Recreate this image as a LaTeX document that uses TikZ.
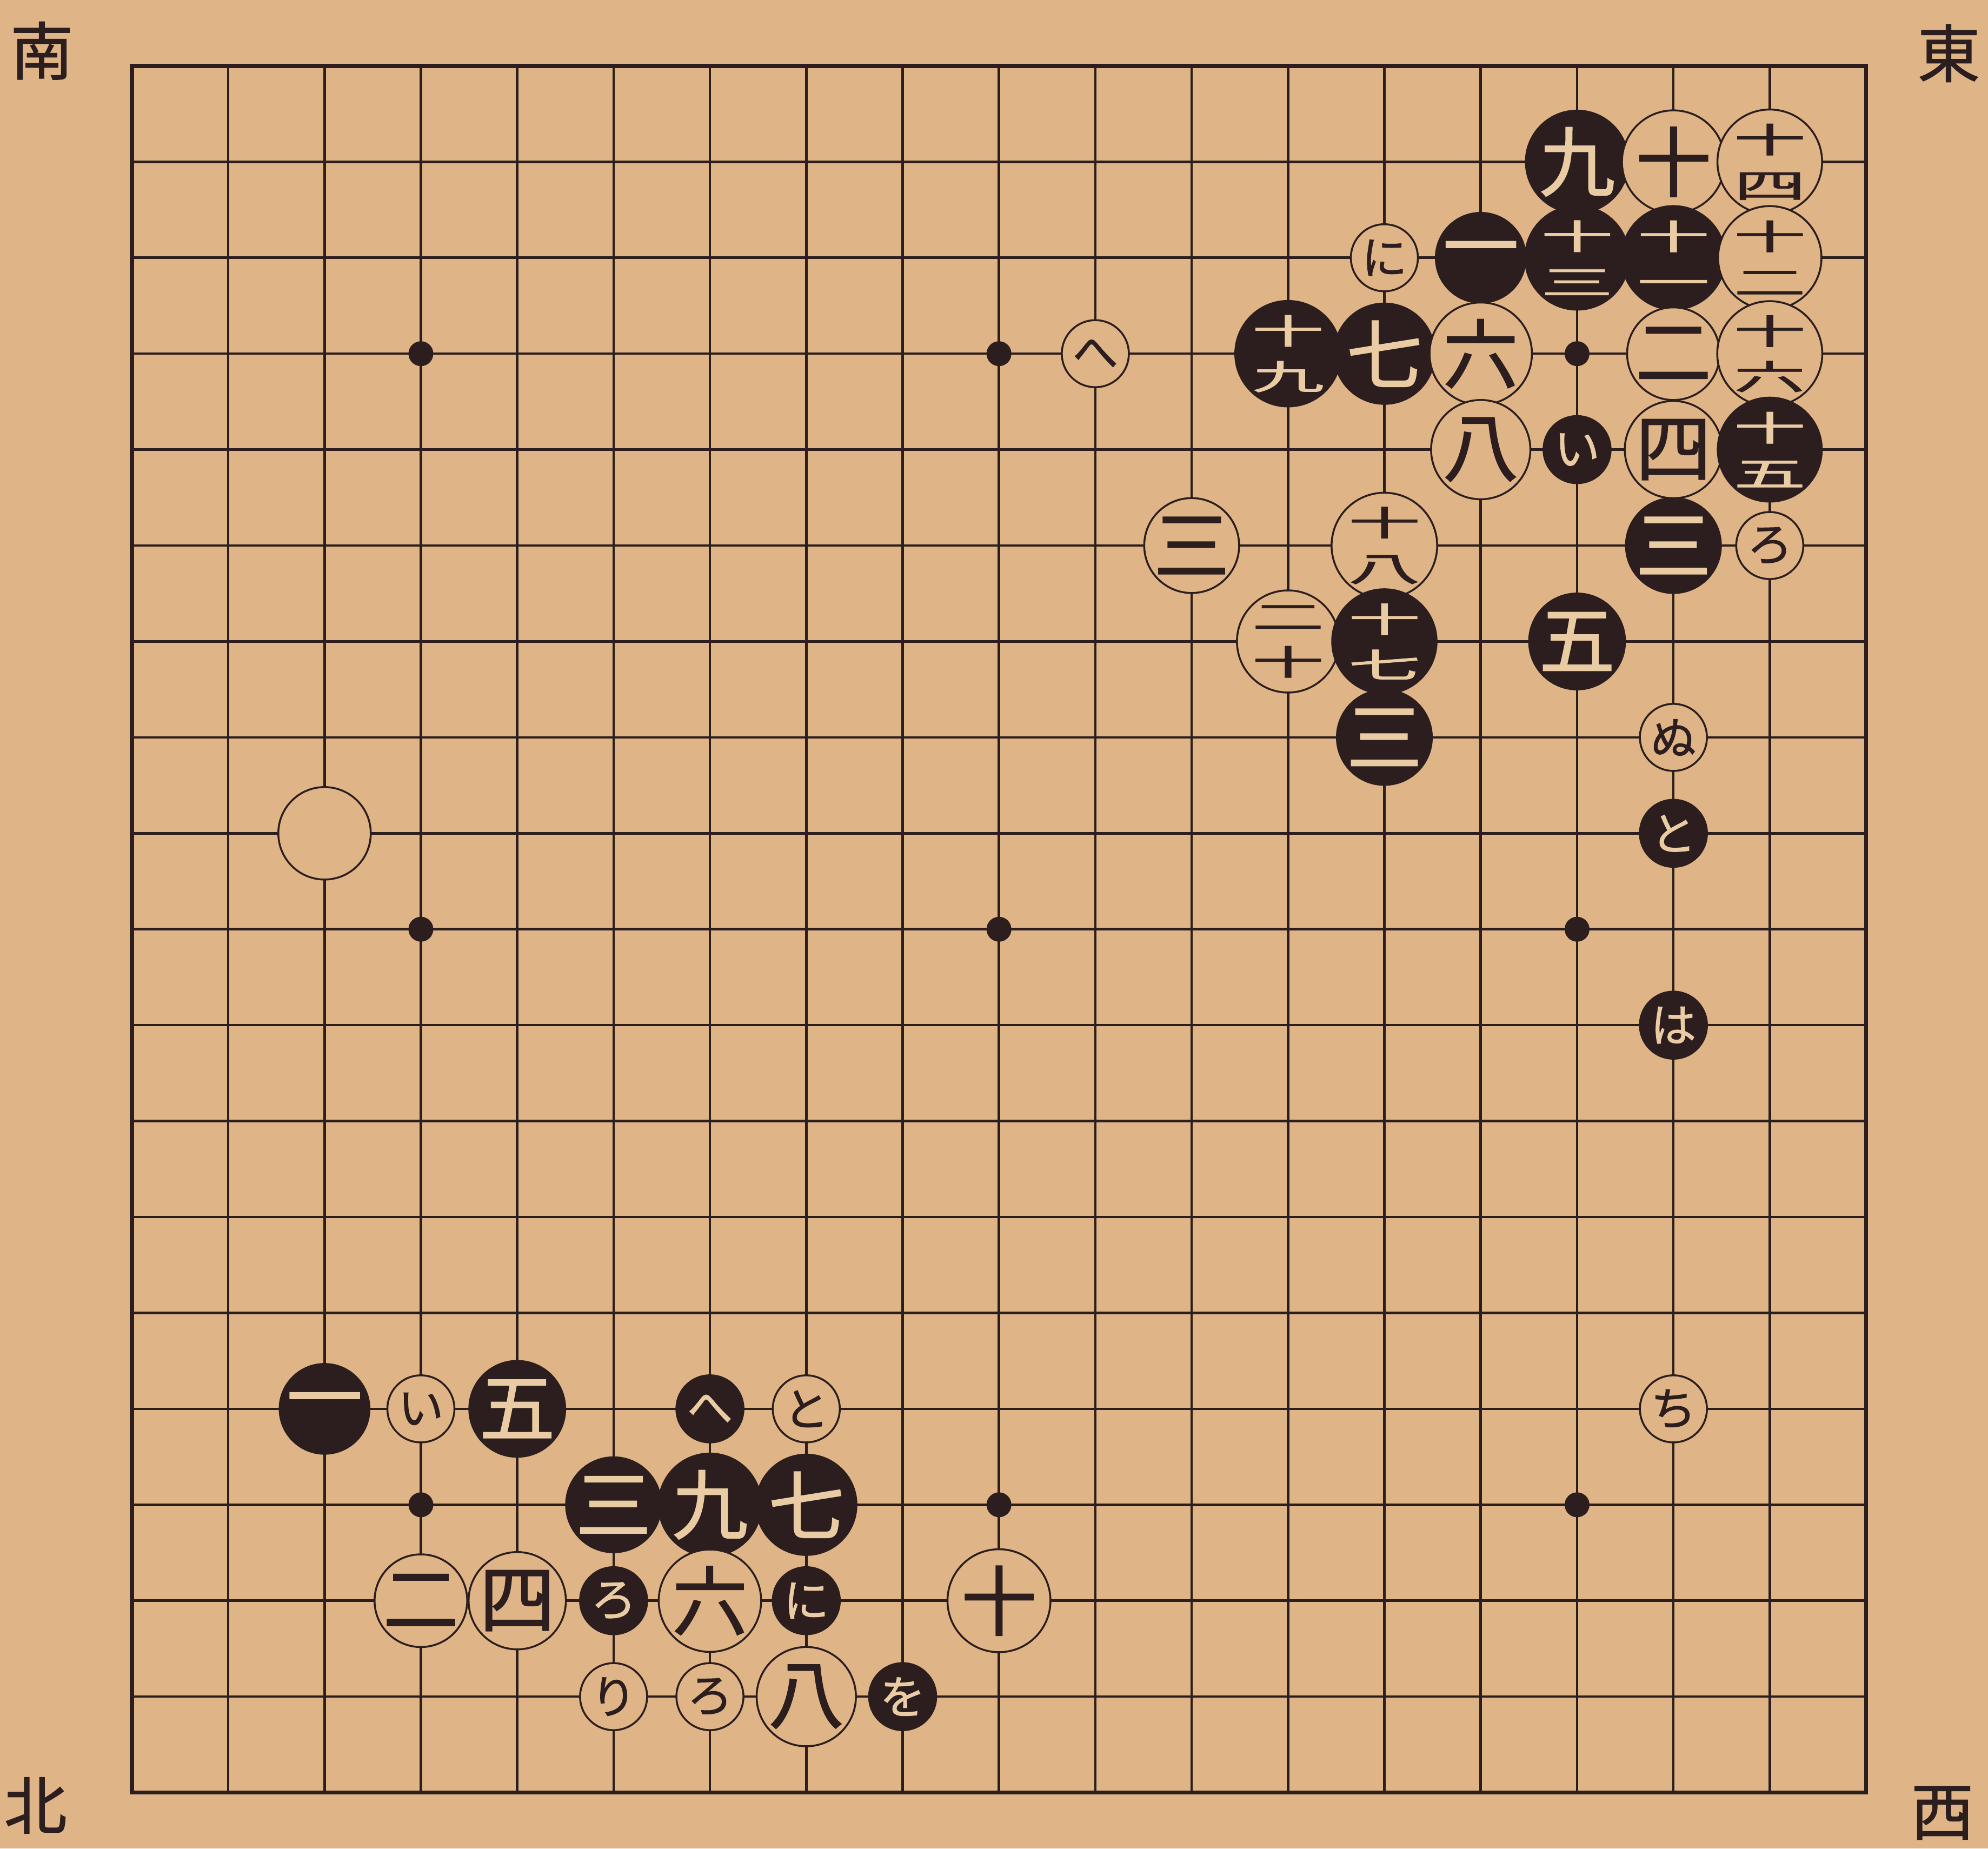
\documentclass[tikz,border=0pt]{standalone}
\usepackage{fontspec}
\newfontfamily\cjk{Noto Sans CJK JP}
\newfontfamily\cjkb[FakeBold=1.2]{Noto Sans CJK JP}
\definecolor{paper}{RGB}{223,181,135}
\definecolor{ink}{RGB}{44,30,30}
\definecolor{light}{RGB}{234,204,164}
\newcommand{\stk}[2]{\scalebox{0.95}[0.45]{#1}\\\scalebox{0.95}[0.45]{#2}}
\begin{document}
\begin{tikzpicture}[x=0.02345cm,y=-0.02345cm,
  gridl/.style={draw=ink,line width=1.3pt},
  border/.style={draw=ink,line width=2.2pt},
  bigw/.style={circle,draw=ink,fill=paper,line width=1pt,minimum size=1.66cm,inner sep=0pt,text=ink,font=\cjkb\fontsize{40}{24}\selectfont,align=center},
  bigb/.style={bigw,fill=ink,text=light},
  smw/.style={circle,draw=ink,fill=paper,line width=1pt,minimum size=1.24cm,inner sep=0pt,text=ink,font=\cjkb\fontsize{24}{24}\selectfont},
  smb/.style={smw,fill=ink,text=light},
  corner/.style={text=ink,font=\cjkb\fontsize{33}{33}\selectfont,inner sep=0pt}]
\fill[paper] (0,0) rectangle (1568,1458);
\node[corner] (S) at (33,40) {南};
\node[corner] (E) at (1537,42) {東};
\node[corner] (N) at (28,1424) {北};
\node[corner] (W) at (1532,1430) {西};
\begin{scope}[shift={(2.4388cm,-1.2194cm)},x=1.7822cm,y=-1.7744cm]
\foreach \i in {1,...,17} {
  \draw[gridl] (\i,0) -- (\i,18);
  \draw[gridl] (0,\i) -- (18,\i);
}
\draw[border] (0,0) rectangle (18,18);
\foreach \a in {3,9,15} \foreach \b in {3,9,15} \fill[ink] (\a,\b) circle (0.23cm);
% top right
\node[bigb] (b1a) at (15,1) {九};
\node[bigw] (w1b) at (16,1) {十};
\node[bigw] (w1c) at (17,1) {\stk{十}{四}};
\node[smw] (k2a) at (13,2) {に};
\node[bigb] (b2b) at (14,2) {一};
\node[bigb] (b2c) at (15,2) {\stk{十}{三}};
\node[bigb] (b2d) at (16,2) {\stk{十}{一}};
\node[bigw] (w2e) at (17,2) {\stk{十}{二}};
\node[smw] (k3a) at (10,3) {へ};
\node[bigb] (b3b) at (12,3) {\stk{十}{九}};
\node[bigb] (b3c) at (13,3) {七};
\node[bigw] (w3d) at (14,3) {六};
\node[bigw] (w3e) at (16,3) {二};
\node[bigw] (w3f) at (17,3) {\stk{十}{六}};
\node[bigw] (w4a) at (14,4) {八};
\node[smb] (k4b) at (15,4) {い};
\node[bigw] (w4c) at (16,4) {四};
\node[bigb] (b4d) at (17,4) {\stk{十}{五}};
\node[bigw] (w5a) at (11,5) {三};
\node[bigw] (w5b) at (13,5) {\stk{十}{八}};
\node[bigb] (b5c) at (16,5) {三};
\node[smw] (k5d) at (17,5) {ろ};
\node[bigw] (w6a) at (12,6) {\stk{二}{十}};
\node[bigb] (b6b) at (13,6) {\stk{十}{七}};
\node[bigb] (b6c) at (15,6) {五};
\node[bigb] (b7a) at (13,7) {三};
\node[smw] (k7b) at (16,7) {ぬ};
\node[smb] (k8a) at (16,8) {と};
\node[bigw,minimum size=1.71cm] (e8) at (2,8) {};
\node[smb] (k10) at (16,10) {は};
\node[smw] (k14) at (16,14) {ち};
% bottom left
\node[bigb] (c14a) at (2,14) {一};
\node[smw] (c14b) at (3,14) {い};
\node[bigb] (c14c) at (4,14) {五};
\node[smb] (c14d) at (6,14) {へ};
\node[smw] (c14e) at (7,14) {と};
\node[bigb] (c15a) at (5,15) {三};
\node[bigb] (c15b) at (6,15) {九};
\node[bigb] (c15c) at (7,15) {七};
\node[bigw] (c16a) at (3,16) {二};
\node[bigw] (c16b) at (4,16) {四};
\node[smb] (c16c) at (5,16) {ろ};
\node[bigw] (c16d) at (6,16) {六};
\node[smb] (c16e) at (7,16) {に};
\node[bigw] (c16f) at (9,16) {十};
\node[smw] (c17a) at (5,17) {り};
\node[smw] (c17b) at (6,17) {ろ};
\node[bigw] (c17c) at (7,17) {八};
\node[smb] (c17d) at (8,17) {を};
\end{scope}
\end{tikzpicture}
\end{document}
